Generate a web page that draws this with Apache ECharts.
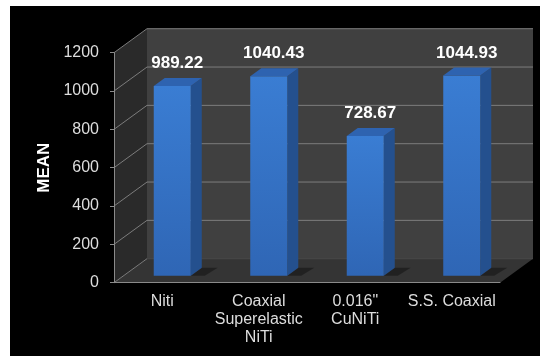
<!DOCTYPE html>
<html>
<head>
<meta charset="utf-8">
<script src="https://cdn.jsdelivr.net/npm/echarts@6/dist/echarts.min.js"></script>
<style>
  html, body { margin: 0; padding: 0; background: #fff; }
  #chart { width: 545px; height: 356px; }
</style>
</head>
<body>
<div id="chart"></div>
<script>
// Mean values per wire type
const categories = ['Niti', 'Coaxial\nSuperelastic\nNiTi', '0.016"\nCuNiTi', 'S.S. Coaxial'];
const meanValues = [989.22, 1040.43, 728.67, 1044.93];
const yTicks = [0, 200, 400, 600, 800, 1000, 1200];

// Pseudo-3D geometry (pixels)
const WALL_DX = 33, WALL_DY = -24;   // depth of the chart box
const BAR_DX = 10, BAR_DY = -7;      // where bars sit inside the box
const BAR_W = 37;                    // bar front width
const BAR_DEPTH_X = 11, BAR_DEPTH_Y = -8;

const chart = echarts.init(document.getElementById('chart'), null, { renderer: 'canvas' });

function renderBox(params, api) {
  const cs = params.coordSys;
  const xL = cs.x, xR = cs.x + cs.width;
  const yT = cs.y, yB = cs.y + cs.height;
  const children = [];
  // left side wall
  children.push({ type: 'polygon', shape: { points: [[xL, yT], [xL + WALL_DX, yT + WALL_DY], [xL + WALL_DX, yB + WALL_DY], [xL, yB]] },
    style: { fill: '#2a2a2a' } });
  // back wall
  children.push({ type: 'rect', shape: { x: xL + WALL_DX, y: yT + WALL_DY, width: cs.width, height: cs.height },
    style: { fill: '#404040' } });
  // floor
  children.push({ type: 'polygon', shape: { points: [[xL, yB], [xL + WALL_DX, yB + WALL_DY], [xR + WALL_DX, yB + WALL_DY], [xR, yB]] },
    style: { fill: '#343434' } });
  // gridlines on back wall and side wall
  yTicks.forEach(function (v) {
    const y = api.coord([0, v])[1];
    children.push({ type: 'line', shape: { x1: xL + WALL_DX, y1: y + WALL_DY, x2: xR + WALL_DX, y2: y + WALL_DY },
      style: { stroke: v > 0 ? '#7c7c7c' : '#4a4a4a', lineWidth: 1 } });
    children.push({ type: 'line', shape: { x1: xL, y1: y, x2: xL + WALL_DX, y2: y + WALL_DY },
      style: { stroke: '#7c7c7c', lineWidth: 1 } });
  });
  return { type: 'group', children: children };
}

function renderBar(params, api) {
  const idx = api.value(0);
  const val = api.value(1);
  const top = api.coord([idx, val]);
  const base = api.coord([idx, 0]);
  const x0 = top[0] + BAR_DX - BAR_W / 2;
  const x1 = x0 + BAR_W;
  const yTop = top[1] + BAR_DY;
  const yBot = base[1] + BAR_DY;
  const dx = BAR_DEPTH_X, dy = BAR_DEPTH_Y;
  return {
    type: 'group',
    children: [
      // shadow on the floor
      { type: 'polygon', shape: { points: [[x1, yBot], [x1 + dx, yBot + dy], [x1 + dx + 16, yBot + dy], [x1 + 14, yBot]] },
        style: { fill: 'rgba(0,0,0,0.35)' } },
      // side face
      { type: 'polygon', shape: { points: [[x1, yTop], [x1 + dx, yTop + dy], [x1 + dx, yBot + dy], [x1, yBot]] },
        style: { fill: '#24508e' } },
      // front face
      { type: 'rect', shape: { x: x0, y: yTop, width: BAR_W, height: yBot - yTop },
        style: { fill: new echarts.graphic.LinearGradient(0, 0, 0, 1, [
          { offset: 0, color: '#3a7dd3' }, { offset: 1, color: '#2f66b5' }]) } },
      // top face
      { type: 'polygon', shape: { points: [[x0, yTop], [x0 + dx, yTop + dy], [x1 + dx, yTop + dy], [x1, yTop]] },
        style: { fill: '#2e63b0' } },
      // value label
      { type: 'text', x: x0 + BAR_W / 2 + 5, y: yTop - 22.5,
        style: { text: val.toFixed(2), fill: '#ffffff', font: 'bold 17px "Liberation Sans", Arial, sans-serif',
          align: 'center', verticalAlign: 'middle' } }
    ]
  };
}

chart.setOption({
  backgroundColor: '#ffffff',
  animation: false,
  graphic: [{
    type: 'rect', z: -100, silent: true,
    shape: { x: 10, y: 6, width: 530, height: 350 },
    style: { fill: '#000000' }
  }],
  grid: { left: 114, right: 45, top: 52.7, bottom: 73.3, containLabel: false },
  xAxis: {
    type: 'category',
    z: 4,
    data: categories,
    axisLine: { show: true, lineStyle: { color: '#8a8a8a', width: 1 } },
    axisTick: { show: false },
    axisLabel: {
      color: '#dddddd', fontSize: 16, fontFamily: '"Liberation Sans", Arial, sans-serif',
      lineHeight: 18, margin: 10, interval: 0
    },
    splitLine: { show: false }
  },
  yAxis: {
    type: 'value',
    z: 4,
    min: 0, max: 1200, interval: 200,
    name: 'MEAN',
    nameLocation: 'middle',
    nameRotate: 90,
    nameGap: 60,
    nameTextStyle: { color: '#ffffff', fontSize: 17, fontWeight: 'bold', fontFamily: '"Liberation Sans", Arial, sans-serif' },
    axisLine: { show: true, lineStyle: { color: '#8a8a8a', width: 1 } },
    axisTick: { show: true, length: 4, lineStyle: { color: '#8a8a8a' } },
    axisLabel: {
      color: '#dddddd', fontSize: 16, fontFamily: '"Liberation Sans", Arial, sans-serif', margin: 15,
      formatter: function (v) { return String(v); }
    },
    splitLine: { show: false }
  },
  series: [
    {
      type: 'custom',
      name: 'box',
      z: 1,
      silent: true,
      renderItem: renderBox,
      data: [[0, 0]]
    },
    {
      type: 'custom',
      name: 'MEAN',
      z: 5,
      renderItem: renderBar,
      encode: { x: 0, y: 1 },
      data: meanValues.map(function (v, i) { return [i, v]; })
    }
  ]
});
</script>
</body>
</html>
